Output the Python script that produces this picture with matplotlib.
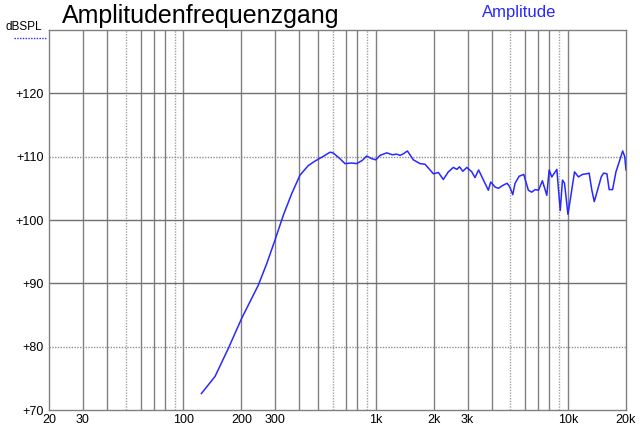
import numpy as np
import matplotlib.pyplot as plt
from matplotlib.ticker import FixedLocator, NullLocator

# frequency response (Hz, dB SPL)
freq = [124, 146, 171, 201, 245, 271, 299, 331, 366, 404, 446, 483, 530, 578,
        600, 650, 692, 750, 796, 850, 898, 950, 1000, 1052, 1140, 1220, 1286,
        1338, 1400, 1460, 1568, 1700, 1804, 1993, 2117, 2245, 2384, 2530, 2640,
        2725, 2835, 2975, 3157, 3280, 3425, 3630, 3848, 3960, 4175, 4340, 4600,
        4820, 4980, 5154, 5300, 5560, 5880, 6214, 6470, 6740, 7020, 7350, 7750,
        7970, 8230, 8740, 9100, 9350, 9580, 9980, 10250, 10800, 11320, 11870,
        12510, 12860, 13290, 13680, 14130, 14870, 15290, 15910, 16350, 17030,
        17730, 18450, 19220, 19700, 20000]
spl = [72.6, 75.3, 79.7, 84.5, 89.7, 93.1, 96.8, 100.8, 104.2, 107.1, 108.6,
       109.3, 110.0, 110.7, 110.6, 109.7, 108.9, 109.0, 108.9, 109.4, 110.1,
       109.7, 109.5, 110.2, 110.6, 110.3, 110.4, 110.2, 110.5, 110.9, 109.5,
       108.9, 108.8, 107.3, 107.5, 106.4, 107.6, 108.3, 108.0, 108.4, 107.7,
       108.3, 107.6, 106.7, 107.9, 106.3, 104.7, 106.0, 105.2, 105.0, 105.5,
       105.8, 105.2, 104.0, 105.8, 106.9, 107.2, 104.7, 104.4, 104.8, 104.7,
       106.2, 103.9, 107.9, 106.8, 108.0, 101.5, 106.3, 105.8, 100.9, 103.1,
       107.6, 106.8, 107.2, 107.3, 107.4, 104.7, 102.9, 104.4, 106.8, 107.4,
       107.3, 104.8, 104.8, 107.6, 109.2, 110.9, 110.0, 107.9]

x_ticks = [20, 30, 100, 200, 300, 1000, 2000, 3000, 10000, 20000]
x_labels = ['20', '30', '100', '200', '300', '1k', '2k', '3k', '10k', '20k']
y_ticks = [70, 80, 90, 100, 110, 120]
y_labels = ['+70', '+80', '+90', '+100', '+110', '+120']

plt.rcParams['font.family'] = ['Liberation Sans', 'DejaVu Sans']

fig = plt.figure(figsize=(6.4, 4.29), dpi=100)
ax = fig.add_axes([49 / 640, 19 / 429, 577 / 640, 380 / 429])

ax.set_xscale('log')
ax.set_xlim(20, 20000)
ax.set_ylim(70, 130)

# vertical grid (all 1-2-3...9 lines per decade)
dotted_f = {50, 90, 600, 900, 5000, 9000}
for dec in [10, 100, 1000, 10000]:
    for m in range(1, 10):
        f = dec * m
        if f <= 20 or f >= 20000:
            continue
        if f in dotted_f:
            ax.axvline(f, color='#a0a0a0', lw=1, ls=(0, (1, 1)), zorder=1)
        else:
            ax.axvline(f, color='#808080', lw=1, zorder=1)

for v in [80, 90, 100, 110, 120]:
    if v in (80, 110):
        ax.axhline(v, color='#909090', lw=1, ls=(0, (1, 1)), zorder=1)
    else:
        ax.axhline(v, color='#707070', lw=1, zorder=1)

ax.plot(freq, spl, color='#2828ff', lw=1.1, zorder=3)

ax.xaxis.set_major_locator(FixedLocator(x_ticks))
ax.xaxis.set_minor_locator(NullLocator())
ax.set_xticklabels(x_labels)
ax.set_yticks(y_ticks)
ax.set_yticklabels(y_labels)
ax.tick_params(axis='both', length=0, labelsize=9, colors='black')
ax.tick_params(axis='y', pad=4)
ax.tick_params(axis='x', pad=3)

for s in ax.spines.values():
    s.set_color('#808080')
    s.set_linewidth(1)

fig.text(62 / 640, 1 - 16 / 429, 'Amplitudenfrequenzgang', fontsize=18,
         ha='left', va='center', color='black')
fig.text(482 / 640, 1 - 13 / 429, 'Amplitude', fontsize=12,
         ha='left', va='center', color='#2828ff')
fig.text(6 / 640, 1 - 27 / 429, 'dBSPL', fontsize=8.5, ha='left',
         va='center', color='black')
fig.add_artist(plt.Line2D([14 / 640, 46 / 640], [1 - 38 / 429, 1 - 38 / 429],
                          color='#2828ff', lw=1, ls=(0, (1, 1))))

fig.savefig('out.png', dpi=100)
